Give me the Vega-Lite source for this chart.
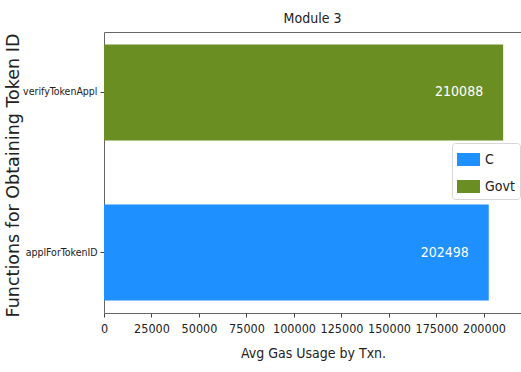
{
  "$schema": "https://vega.github.io/schema/vega-lite/v6.json",
  "autosize": {"type": "none"},
  "padding": {"left": 104, "top": 32, "right": 0, "bottom": 59},
  "width": 417,
  "height": 281,
  "title": {
    "text": "Module 3",
    "font": "DejaVu Sans Condensed",
    "fontSize": 14,
    "fontWeight": "normal",
    "color": "#222",
    "offset": 6
  },
  "data": {
    "values": [
      {"function": "verifyTokenAppl", "group": "Govt", "gas": 210088},
      {"function": "applForTokenID", "group": "C", "gas": 202498}
    ]
  },
  "encoding": {
    "y": {
      "field": "function",
      "type": "nominal",
      "sort": ["verifyTokenAppl", "applForTokenID"],
      "scale": {"paddingInner": 0.4, "paddingOuter": 0.078},
      "axis": {
        "title": "Functions for Obtaining Token ID",
        "titleFont": "DejaVu Sans",
        "titleFontSize": 17.5,
        "titleFontWeight": "normal",
        "titleColor": "#222",
        "titleX": -91,
        "titleY": 143,
        "titleAngle": -90,
        "titleAlign": "center",
        "titleBaseline": "middle",
        "labelFont": "DejaVu Sans Condensed",
        "labelFontSize": 10.5,
        "labelColor": "#222",
        "tickColor": "#444",
        "tickSize": 4,
        "labelPadding": 3,
        "domain": true,
        "domainColor": "#666"
      }
    },
    "x": {
      "field": "gas",
      "type": "quantitative",
      "scale": {"domain": [0, 219474], "nice": false}
    }
  },
  "layer": [
    {
      "mark": {"type": "bar", "cornerRadius": 0},
      "encoding": {
        "x": {
          "field": "gas",
          "type": "quantitative",
          "scale": {"domain": [0, 219474], "nice": false},
          "axis": {
            "title": "Avg Gas Usage by Txn.",
            "values": [0, 25000, 50000, 75000, 100000, 125000, 150000, 175000, 200000],
            "format": "d",
            "grid": false,
            "titleFont": "DejaVu Sans Condensed",
            "titleFontSize": 14,
            "titleFontWeight": "normal",
            "titleColor": "#222",
            "titleX": 209,
            "titleAnchor": "middle",
            "titlePadding": 12,
            "labelFont": "DejaVu Sans Condensed",
            "labelFontSize": 12.5,
            "labelColor": "#222",
            "labelPadding": 5,
            "labelFlush": false,
            "labelOverlap": false,
            "tickColor": "#444",
            "tickSize": 4,
            "domain": true,
            "domainColor": "#666"
          }
        },
        "color": {
          "field": "group",
          "type": "nominal",
          "scale": {"domain": ["C", "Govt"], "range": ["#1E90FF", "#6B8E23"]},
          "legend": {
            "title": null,
            "orient": "none",
            "legendX": 348,
            "legendY": 111,
            "symbolType": "M-1,-0.565H1V0.565H-1Z",
            "symbolSize": 529,
            "symbolStrokeWidth": 0,
            "labelFont": "DejaVu Sans Condensed",
            "labelFontSize": 14,
            "labelColor": "#222",
            "labelOffset": 5,
            "rowPadding": 8,
            "padding": 5,
            "fillColor": "white",
            "strokeColor": "#d6d6d6",
            "cornerRadius": 3
          }
        }
      }
    },
    {
      "mark": {
        "type": "text",
        "align": "right",
        "baseline": "middle",
        "dx": -20,
        "color": "white",
        "font": "DejaVu Sans Condensed",
        "fontSize": 14
      },
      "encoding": {
        "x": {
          "field": "gas",
          "type": "quantitative",
          "scale": {"domain": [0, 219474], "nice": false},
          "axis": {
            "orient": "top",
            "title": null,
            "labels": false,
            "ticks": false,
            "grid": false,
            "domain": true,
            "domainColor": "#666"
          }
        },
        "text": {"field": "gas", "type": "quantitative", "format": "d"}
      }
    }
  ],
  "resolve": {"axis": {"x": "independent"}},
  "config": {
    "view": {"stroke": null}
  }
}
